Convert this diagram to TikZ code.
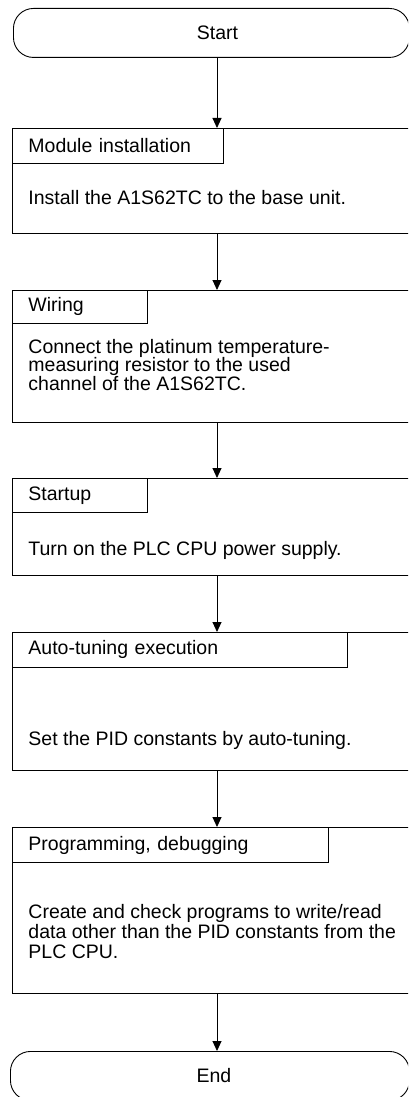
\documentclass[tikz,border=0pt]{standalone}
\usepackage{fontspec}
\setmainfont{Liberation Sans}
\usetikzlibrary{arrows.meta}
\begin{document}
\begin{tikzpicture}[x=1pt,y=-1pt,
  line width=0.9pt,
  every node/.style={font=\fontsize{19.5}{20}\selectfont},
  term/.style={draw, rounded corners=20pt, minimum height=49pt, anchor=north west, inner sep=0pt},
  stepbox/.style={draw, anchor=north west, minimum width=410pt, inner sep=0pt},
  tagbox/.style={draw, anchor=north west, inner ysep=0pt, inner xsep=16pt, align=left},
  bodytext/.style={anchor=west, inner sep=0pt, align=left},
  arr/.style={-{Triangle[length=10pt,width=9pt]}}
]
\useasboundingbox (0,0) rectangle (408,1097);
\clip (0,0) rectangle (408,1097);
\coordinate (ax) at (217,0);

% terminals
\node[term, minimum width=396pt] (s) at (13,8) {\hspace*{12pt}Start};
\node[term, minimum width=399pt] (e) at (10,1051) {\hspace*{8pt}End};

% step boxes
\node[stepbox, minimum height=105pt] (m) at (12,128) {};
\node[stepbox, minimum height=132pt] (w) at (12,290) {};
\node[stepbox, minimum height=97pt]  (u) at (12,478) {};
\node[stepbox, minimum height=138pt] (a) at (12,632) {};
\node[stepbox, minimum height=166pt] (p) at (12,827) {};

% tag boxes
\node[tagbox, text width=179pt, minimum height=35pt] (mt) at (12,128) {Module installation};
\node[tagbox, text width=103pt, minimum height=33pt] (wt) at (12,290) {Wiring};
\node[tagbox, text width=103pt, minimum height=34pt] (ut) at (12,478) {Startup};
\node[tagbox, text width=303pt, minimum height=35pt] (at) at (12,632) {Auto-tuning execution};
\node[tagbox, text width=284pt, minimum height=35pt] (pt) at (12,827) {Programming, debugging};

% body texts
\node[bodytext] (mb) at (28,198) {Install the A1S62TC to the base unit.};
\node[bodytext, font=\fontsize{19.5}{18.5}\selectfont] (wb) at (28,365) {Connect the platinum temperature-\\measuring resistor to the used\\channel of the A1S62TC.};
\node[bodytext] (ub) at (28,550) {Turn on the PLC CPU power supply.};
\node[bodytext] (ab) at (28,740) {Set the PID constants by auto-tuning.};
\node[bodytext, font=\fontsize{19.5}{20}\selectfont] (pb) at (28,932) {Create and check programs to write/read\\data other than the PID constants from the\\PLC CPU.};

% connectors
\draw[arr] (s.south -| ax) -- (m.north -| ax);
\draw[arr] (m.south -| ax) -- (w.north -| ax);
\draw[arr] (w.south -| ax) -- (u.north -| ax);
\draw[arr] (u.south -| ax) -- (a.north -| ax);
\draw[arr] (a.south -| ax) -- (p.north -| ax);
\draw[arr] (p.south -| ax) -- (e.north -| ax);
\end{tikzpicture}
\end{document}
